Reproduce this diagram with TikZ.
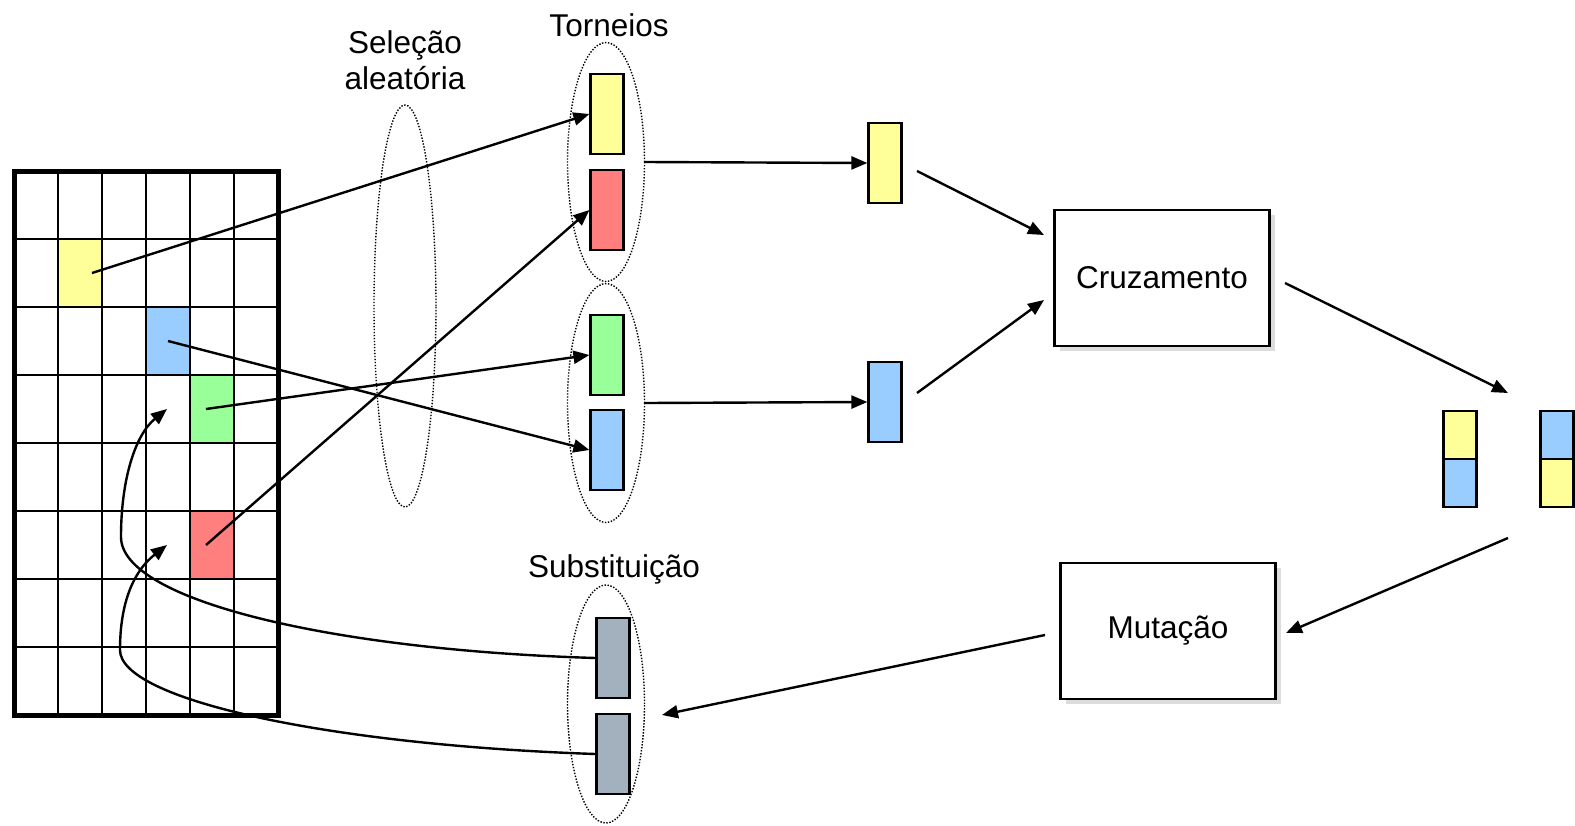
\documentclass[tikz,border=0pt]{standalone}
\usepackage{fontspec}
\setmainfont{Liberation Sans}
\usepackage{tikz}
\usetikzlibrary{arrows.meta,shapes.geometric,shadows,positioning}

\definecolor{chromy}{HTML}{FFFF99}
\definecolor{chromr}{HTML}{FF7F7F}
\definecolor{chromg}{HTML}{99FF99}
\definecolor{chromb}{HTML}{99CCFF}
\definecolor{chromgr}{HTML}{A3B1BF}
\definecolor{shadowgray}{HTML}{DCDCDC}

\begin{document}
\begin{tikzpicture}[x=0.5pt,y=-0.5pt,
  every node/.style={font=\fontsize{15.75}{18}\selectfont},
  chrom/.style={draw,line width=1.1pt,minimum width=16.5pt,minimum height=40pt,inner sep=0pt},
  half/.style={draw,line width=1.1pt,minimum width=16.5pt,minimum height=24pt,inner sep=0pt,outer sep=0pt},
  cell/.style={minimum width=22pt,minimum height=34pt,inner sep=0pt},
  group/.style={draw,ellipse,inner sep=0pt,line width=0.7pt,dash pattern=on 0.7pt off 0.8pt},
  op/.style={draw,line width=1.1pt,fill=white,minimum width=107.5pt,minimum height=68pt,
    drop shadow={shadow xshift=2.5pt,shadow yshift=-2.5pt,fill=shadowgray,opacity=1}},
  arr/.style={line width=1.2pt,-{Triangle[length=8pt,width=6.5pt]}}]
  \useasboundingbox (0,0) rectangle (1575,825);
  % population grid
  \node[cell,fill=chromy] (cy) at (80,273) {};
  \node[cell,fill=chromb] (cb) at (168,341) {};
  \node[cell,fill=chromg] (cg) at (212,409) {};
  \node[cell,fill=chromr] (cr) at (212,545) {};
  \foreach \c in {1,...,5}
    \draw[line width=1.1pt] (14+44*\c,171) -- (14+44*\c,715);
  \foreach \r in {1,...,7}
    \draw[line width=1.1pt] (14,171+68*\r) -- (278,171+68*\r);
  \draw[line width=2.5pt] (14,171) rectangle (278,715);
  \coordinate (dst1) at (167,409);
  \coordinate (dst2) at (167,545);
  % labels and groups
  \node[align=center] (sellbl) at (405,60) {Seleção\\aleatória};
  \node[group,minimum width=31pt,minimum height=201pt] (sel) at (405,306) {};
  \node (torlbl) at (609,25) {Torneios};
  \node[group,minimum width=38.5pt,minimum height=119.5pt] (tor1) at (606,162) {};
  \node[group,minimum width=38.5pt,minimum height=119.5pt] (tor2) at (606,403) {};
  \node (sublbl) at (614,569) {Substituição};
  \node[group,minimum width=38.5pt,minimum height=119pt] (subs) at (606,704) {};
  % chromosomes
  \node[chrom,fill=chromy] (ty) at (607,114) {};
  \node[chrom,fill=chromr] (tr) at (607,210) {};
  \node[chrom,fill=chromg] (tg) at (607,355) {};
  \node[chrom,fill=chromb] (tb) at (607,450) {};
  \node[chrom,fill=chromy] (my) at (885,163) {};
  \node[chrom,fill=chromb] (mb) at (885,402) {};
  \node[chrom,fill=chromgr] (sg1) at (613,658) {};
  \node[chrom,fill=chromgr] (sg2) at (613,754) {};
  \node[half,fill=chromy] (py1) at (1460,435) {};
  \node[half,fill=chromb,anchor=north] (pb1) at (py1.south) {};
  \node[half,fill=chromb] (pb2) at (1557,435) {};
  \node[half,fill=chromy,anchor=north] (py2) at (pb2.south) {};
  % operators
  \node[op] (cruz) at (1162,278) {Cruzamento};
  \node[op] (mut) at (1168,631) {Mutação};
  \coordinate (c1) at (917,171);
  \coordinate (c2) at (1044,235);
  \coordinate (c3) at (917,393);
  \coordinate (c4) at (1044,300);
  \coordinate (c5) at (1285,283);
  \coordinate (c6) at (1508,393);
  \coordinate (c7) at (1508,538);
  \coordinate (c8) at (1286,633);
  \coordinate (c9) at (1045,635);
  \coordinate (c10) at (662,715);
  % connectors
  \draw[arr] ([xshift=6pt]cy.center) -- (ty.west);
  \draw[arr] (cb.center) -- (tb.west);
  \draw[arr] ([xshift=-3pt]cg.center) -- (tg.west);
  \draw[arr] ([xshift=-3pt]cr.center) -- (tr.west);
  \draw[arr] (tor1.east) -- (my.west);
  \draw[arr] (tor2.east) -- (mb.west);
  \draw[arr] (c1) -- (c2);
  \draw[arr] (c3) -- (c4);
  \draw[arr] (c5) -- (c6);
  \draw[arr] (c7) -- (c8);
  \draw[arr] (c9) -- (c10);
  \draw[arr] (sg1.west) .. controls (330,650) and (121,600) .. (121,537)
    .. controls (121,480) and (135,435) .. (dst1);
  \draw[arr] (sg2.west) .. controls (330,745) and (120,700) .. (120,650)
    .. controls (120,600) and (135,570) .. (dst2);
\end{tikzpicture}
\end{document}
